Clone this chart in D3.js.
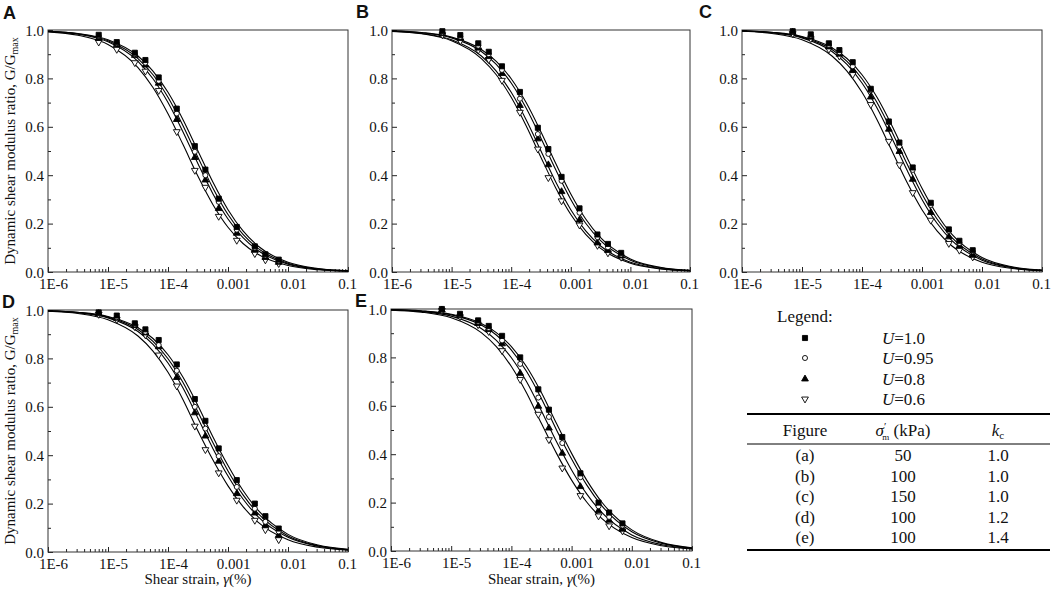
<!DOCTYPE html>
<html>
<head>
<meta charset="utf-8">
<script src="https://cdn.jsdelivr.net/npm/d3@7"></script>
<style>
  body { margin: 0; background: #fff; }
  svg text { font-family: "Liberation Serif", "Times New Roman", serif; fill: #111; }
</style>
</head>
<body>
<svg id="chart" width="1052" height="594"></svg>
<script>
// ---- data ----
var seriesNames = ["1.0", "0.95", "0.8", "0.6"];          // U values
var tickStrain = [1e-6, 1e-5, 1e-4, 1e-3, 1e-2, 1e-1];
var tickStrainLabels = ["1E-6", "1E-5", "1E-4", "0.001", "0.01", "0.1"];
var tickRatio = [0, 0.2, 0.4, 0.6, 0.8, 1.0];
var tickRatioLabels = ["0.0", "0.2", "0.4", "0.6", "0.8", "1.0"];

// strains where the fitted curves were read
var curveStrain = [1e-6, 3.16e-6, 1e-5, 3.16e-5, 5.62e-5, 1e-4, 1.78e-4, 3.16e-4,
                   5.62e-4, 1e-3, 1.78e-3, 3.16e-3, 1e-2, 3.16e-2, 1e-1];
// strains of the test points
var testStrain = [7e-6, 1.4e-5, 2.8e-5, 4.2e-5, 7e-5, 1.4e-4, 2.8e-4, 4.2e-4,
                  7e-4, 1.4e-3, 2.8e-3, 4.2e-3, 7e-3];

// fitted curves, order: U=1.0, 0.95, 0.8, 0.6
var curveA = [
  [.995, .9857, .96, .8927, .8304, .7425, .6294, .5, .3706, .2575, .1696, .1073, .04, .0143, .005],
  [.9945, .9842, .9557, .8821, .815, .7218, .6044, .4736, .3463, .2377, .1552, .0976, .0361, .0128, .0045],
  [.9938, .9824, .951, .8706, .7985, .7, .5788, .4472, .3227, .2191, .1418, .0887, .0326, .0116, .004],
  [.9924, .9784, .9401, .8448, .7623, .6537, .5264, .3956, .2782, .185, .1179, .073, .0266, .0094, .0033]
];
var curveB = [
  [.9964, .9896, .9706, .9195, .8706, .7985, .7, .5788, .4472, .3227, .2191, .1418, .0542, .0195, .0068],
  [.996, .9884, .9674, .9113, .8582, .7809, .6773, .5528, .4212, .3, .2015, .1294, .049, .0176, .0062],
  [.995, .9857, .96, .8927, .8304, .7425, .6294, .5, .3706, .2575, .1696, .1073, .04, .0143, .005],
  [.9945, .9842, .9557, .8821, .815, .7218, .6044, .4736, .3463, .2377, .1552, .0976, .0361, .0128, .0045]
];
var curveC = [
  [.9967, .9906, .9734, .927, .8821, .815, .7218, .6044, .4736, .3463, .2377, .1552, .0599, .0216, .0076],
  [.9964, .9896, .9706, .9195, .8706, .7985, .7, .5788, .4472, .3227, .2191, .1418, .0542, .0195, .0068],
  [.996, .9884, .9674, .9113, .8582, .7809, .6773, .5528, .4212, .3, .2015, .1294, .049, .0176, .0062],
  [.995, .9857, .96, .8927, .8304, .7425, .6294, .5, .3706, .2575, .1696, .1073, .04, .0143, .005]
];
var curveD = [
  [.9967, .9906, .9734, .927, .8821, .815, .7218, .6044, .4755, .3573, .2542, .1728, .0728, .0287, .011],
  [.9964, .9896, .9706, .9195, .8706, .7985, .7, .5788, .4512, .3351, .2361, .1593, .0665, .0261, .01],
  [.996, .9884, .9674, .9113, .8582, .7809, .6773, .5528, .4271, .3137, .2189, .1466, .0606, .0237, .009],
  [.995, .9857, .96, .8927, .8304, .7425, .6294, .5, .38, .2732, .1873, .1238, .0504, .0196, .0074]
];
var curveE = [
  [.9973, .9924, .9784, .9401, .9024, .8448, .7623, .6537, .5264, .4034, .293, .2026, .0872, .0346, .0133],
  [.9971, .9916, .976, .9339, .8927, .8304, .7425, .6294, .5, .38, .2732, .1873, .0797, .0315, .0121],
  [.9964, .9896, .9706, .9195, .8706, .7985, .7, .5788, .4512, .3351, .2361, .1593, .0665, .0261, .01],
  [.9955, .9872, .9639, .9024, .8448, .7623, .6537, .5264, .4034, .293, .2026, .1348, .0553, .0215, .0082]
];

// test points
var pointsA = [
  [.98, .95, .906, .876, .804, .675, .52, .423, .303, .186, .106, .073, .051],
  [.975, .945, .90, .865, .79, .655, .497, .40, .29, .175, .10, .068, .046],
  [.965, .94, .895, .855, .78, .63, .473, .38, .262, .16, .09, .06, .04],
  [.95, .92, .865, .83, .75, .58, .42, .35, .23, .131, .076, .05, .035]
];
var pointsB = [
  [.995, .979, .945, .91, .85, .744, .596, .508, .393, .263, .155, .116, .079],
  [.99, .972, .935, .90, .835, .716, .57, .488, .377, .245, .144, .102, .072],
  [.985, .965, .925, .89, .82, .688, .55, .443, .332, .215, .12, .089, .066],
  [.98, .955, .917, .878, .792, .66, .508, .39, .294, .194, .11, .079, .061]
];
var pointsC = [
  [.995, .982, .945, .917, .867, .757, .622, .535, .432, .286, .176, .129, .09],
  [.993, .977, .938, .908, .85, .751, .618, .519, .422, .277, .17, .12, .085],
  [.99, .97, .93, .90, .834, .723, .59, .498, .383, .246, .145, .107, .069],
  [.985, .964, .92, .892, .816, .692, .54, .443, .328, .214, .118, .09, .062]
];
var pointsD = [
  [.99, .977, .945, .92, .876, .775, .632, .542, .428, .297, .20, .148, .097],
  [.988, .97, .94, .91, .855, .749, .60, .51, .396, .269, .179, .125, .085],
  [.985, .966, .936, .905, .848, .721, .575, .479, .375, .241, .161, .11, .069],
  [.982, .961, .931, .897, .814, .686, .52, .423, .327, .214, .131, .092, .051]
];
var pointsE = [
  [1.0, .98, .953, .93, .889, .80, .668, .584, .471, .321, .20, .159, .114],
  [.998, .975, .947, .922, .87, .773, .634, .554, .446, .305, .185, .141, .105],
  [.996, .972, .94, .915, .856, .734, .598, .508, .404, .266, .166, .127, .09],
  [.994, .968, .935, .907, .828, .709, .565, .46, .343, .229, .145, .104, .083]
];

// table under the legend
var tableFigure = ["(a)", "(b)", "(c)", "(d)", "(e)"];
var tableSigma = ["50", "100", "150", "100", "100"];
var tableKc = ["1.0", "1.0", "1.0", "1.2", "1.4"];

// ---- drawing ----
var serif = "'Liberation Serif', 'Times New Roman', serif";
var svg = d3.select("#chart");

var markers = [
  {type: d3.symbolSquare, size: 26, fill: "#000", rot: 0},
  {type: d3.symbolCircle, size: 20, fill: "#fff", rot: 0},
  {type: d3.symbolTriangle, size: 20, fill: "#000", rot: 0},
  {type: d3.symbolTriangle, size: 20, fill: "#fff", rot: 180}
];

var panels = [
  {tag: "A", curves: curveA, points: pointsA, x0: 48, x1: 348, y0: 30, y1: 272, lx: 3, ly: 19, yTitle: true, xTitle: false},
  {tag: "B", curves: curveB, points: pointsB, x0: 392, x1: 690, y0: 30, y1: 272, lx: 356, ly: 18, yTitle: false, xTitle: false},
  {tag: "C", curves: curveC, points: pointsC, x0: 742, x1: 1042, y0: 30, y1: 272, lx: 699, ly: 18, yTitle: false, xTitle: false},
  {tag: "D", curves: curveD, points: pointsD, x0: 48, x1: 348, y0: 310, y1: 552, lx: 2, ly: 308, yTitle: true, xTitle: true},
  {tag: "E", curves: curveE, points: pointsE, x0: 391, x1: 692, y0: 309, y1: 551, lx: 355, ly: 307, yTitle: false, xTitle: true}
];

// minor ticks 2..9 in each decade
var minorStrain = [];
tickStrain.slice(0, -1).forEach(function (t) {
  for (var k = 2; k < 10; k++) minorStrain.push(t * k);
});

function cleanAxis(a) {
  a.select(".domain").remove();
  a.attr("font-size", null).attr("font-family", null);
  a.selectAll("line").attr("stroke", "#222");
}

panels.forEach(function (p) {
  var x = d3.scaleLog().domain([1e-6, 0.1]).range([p.x0, p.x1]);
  var y = d3.scaleLinear().domain([0, 1]).range([p.y1, p.y0]);
  var g = svg.append("g");

  // x ticks (inside)
  g.append("g").attr("transform", "translate(0," + p.y1 + ")")
    .call(d3.axisBottom(x).tickValues(minorStrain).tickSize(-3).tickFormat(""))
    .call(cleanAxis);
  g.append("g").attr("transform", "translate(0," + p.y1 + ")")
    .call(d3.axisBottom(x).tickValues(tickStrain).tickSize(-5)
      .tickFormat(function (d, i) { return tickStrainLabels[i]; }))
    .call(cleanAxis)
    .selectAll("text")
    .attr("y", 17).attr("dy", null)
    .attr("dx", function (d, i) { return i === tickStrain.length - 1 ? -1 : 5; })
    .style("font-family", serif)
    .style("font-size", "15px");

  // y ticks (inside)
  g.append("g").attr("transform", "translate(" + p.x0 + ",0)")
    .call(d3.axisLeft(y).tickValues([0.1, 0.3, 0.5, 0.7, 0.9]).tickSize(-3).tickFormat(""))
    .call(cleanAxis);
  g.append("g").attr("transform", "translate(" + p.x0 + ",0)")
    .call(d3.axisLeft(y).tickValues(tickRatio).tickSize(-5).tickPadding(4)
      .tickFormat(function (d, i) { return tickRatioLabels[i]; }))
    .call(cleanAxis)
    .selectAll("text")
    .attr("dy", "0.34em")
    .style("font-family", serif)
    .style("font-size", "15px");

  // frame
  g.append("rect")
    .attr("x", p.x0).attr("y", p.y0)
    .attr("width", p.x1 - p.x0).attr("height", p.y1 - p.y0)
    .attr("fill", "none").attr("stroke", "#333").attr("stroke-width", 1);

  // fitted curves
  var line = d3.line()
    .x(function (d, i) { return x(curveStrain[i]); })
    .y(function (d) { return y(d); })
    .curve(d3.curveMonotoneX);
  g.append("g").selectAll("path")
    .data(p.curves)
    .enter().append("path")
    .attr("d", line)
    .attr("fill", "none")
    .attr("stroke", "#000")
    .attr("stroke-width", 1.1);

  // test points, U=0.6 first so the squares end up on top
  [3, 2, 1, 0].forEach(function (s) {
    var m = markers[s];
    g.append("g").selectAll("path")
      .data(p.points[s])
      .enter().append("path")
      .attr("transform", function (d, i) {
        return "translate(" + x(testStrain[i]) + "," + y(d) + ") rotate(" + m.rot + ")";
      })
      .attr("d", d3.symbol().type(m.type).size(m.size))
      .attr("fill", m.fill)
      .attr("stroke", "#000")
      .attr("stroke-width", 0.9);
  });

  // panel letter
  svg.append("text")
    .attr("x", p.lx).attr("y", p.ly)
    .style("font-family", "'Liberation Sans', Arial, sans-serif")
    .style("font-weight", "bold")
    .style("font-size", "18px")
    .text(p.tag);

  if (p.yTitle) {
    var t = svg.append("text")
      .attr("transform", "translate(15," + (p.y0 + p.y1) / 2 + ") rotate(-90)")
      .attr("text-anchor", "middle")
      .style("font-family", serif)
      .style("font-size", "15px")
      .text("Dynamic shear modulus ratio, G/G");
    t.append("tspan").attr("dy", 3).style("font-size", "10px").text("max");
  }
  if (p.xTitle) {
    var xt = svg.append("text")
      .attr("x", (p.x0 + p.x1) / 2).attr("y", 584)
      .attr("text-anchor", "middle")
      .style("font-family", serif)
      .style("font-size", "15px")
      .text("Shear strain, ");
    xt.append("tspan").style("font-style", "italic").text("\u03b3");
    xt.append("tspan").text("(%)");
  }
});

// ---- legend ----
var leg = svg.append("g").style("font-family", serif);
leg.append("text").attr("x", 777).attr("y", 322).style("font-size", "17px").text("Legend:");
var legRows = [338, 358, 379, 399];
seriesNames.forEach(function (name, i) {
  var m = markers[i];
  leg.append("path")
    .attr("transform", "translate(805," + legRows[i] + ") rotate(" + m.rot + ")")
    .attr("d", d3.symbol().type(m.type).size(m.size))
    .attr("fill", m.fill).attr("stroke", "#000").attr("stroke-width", 0.9);
  var lt = leg.append("text").attr("x", 882).attr("y", legRows[i] + 6).style("font-size", "17px");
  lt.append("tspan").style("font-style", "italic").text("U");
  lt.append("tspan").text("=" + name);
});

// ---- parameter table ----
var tbl = svg.append("g").style("font-family", serif);
tbl.append("line").attr("x1", 747).attr("x2", 1050).attr("y1", 414).attr("y2", 414)
  .attr("stroke", "#000").attr("stroke-width", 2);
tbl.append("line").attr("x1", 747).attr("x2", 1050).attr("y1", 444).attr("y2", 444)
  .attr("stroke", "#000").attr("stroke-width", 1);
tbl.append("line").attr("x1", 747).attr("x2", 1050).attr("y1", 550).attr("y2", 550)
  .attr("stroke", "#000").attr("stroke-width", 2);

var colX = [805, 903, 998];
tbl.append("text").attr("x", colX[0]).attr("y", 436).attr("text-anchor", "middle")
  .style("font-size", "17px").text("Figure");
var sh = tbl.append("text").attr("x", colX[1]).attr("y", 436).attr("text-anchor", "middle")
  .style("font-size", "17px");
sh.append("tspan").style("font-style", "italic").text("\u03c3");
sh.append("tspan").attr("dy", -6).style("font-size", "11px").text("\u2032");
sh.append("tspan").attr("dx", -4).attr("dy", 10).style("font-size", "9px").text("m");
sh.append("tspan").attr("dy", -4).text(" (kPa)");
var kh = tbl.append("text").attr("x", colX[2]).attr("y", 436).attr("text-anchor", "middle")
  .style("font-size", "17px");
kh.append("tspan").style("font-style", "italic").text("k");
kh.append("tspan").attr("dy", 3).style("font-size", "11px").text("c");

var rowY = [461, 482, 502, 523, 543];
tableFigure.forEach(function (f, i) {
  [f, tableSigma[i], tableKc[i]].forEach(function (v, j) {
    tbl.append("text").attr("x", colX[j]).attr("y", rowY[i]).attr("text-anchor", "middle")
      .style("font-size", "17px").text(v);
  });
});
</script>
</body>
</html>
